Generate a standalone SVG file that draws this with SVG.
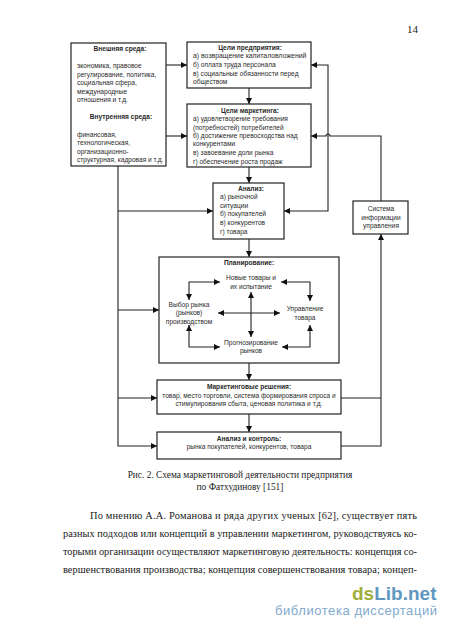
<svg xmlns="http://www.w3.org/2000/svg" width="450" height="631" viewBox="0 0 450 631">
<style>
text{font-family:"Liberation Sans",Arial,sans-serif;font-size:6.6px;fill:#2a2a2a}
.b{font-weight:bold;text-anchor:middle}
.m{text-anchor:middle}
.box{fill:#fff;stroke:#222;stroke-width:1.2}
.c{fill:none;stroke:#222;stroke-width:1.1}
.s{font-family:"Liberation Serif",serif;fill:#222}
.cap{font-size:9.4px}
.body{font-size:10.4px}
</style>
<defs>
<marker id="a" viewBox="0 0 6 6" refX="6" refY="3" markerWidth="6" markerHeight="6" markerUnits="userSpaceOnUse" orient="auto-start-reverse"><path d="M0 0L6 3L0 6z" fill="#111"/></marker>
</defs>
<rect width="450" height="631" fill="#fff"/>
<text class="s" x="407" y="33" style="font-size:11px">14</text>
<g id="connectors">
<path class="c" d="M166 65H187" marker-end="url(#a)"/>
<path class="c" d="M166 136H187" marker-end="url(#a)"/>
<path class="c" d="M249 88V104" marker-end="url(#a)"/>
<path class="c" d="M249 167V183" marker-end="url(#a)"/>
<path class="c" d="M249 239V257" marker-end="url(#a)"/>
<path class="c" d="M249 363V380" marker-end="url(#a)"/>
<path class="c" d="M249 414V432" marker-end="url(#a)"/>
<path class="c" d="M118 166V446H157" marker-end="url(#a)"/>
<path class="c" d="M118 211H213" marker-end="url(#a)"/>
<path class="c" d="M118 310H159" marker-end="url(#a)"/>
<path class="c" d="M118 398H157" marker-end="url(#a)"/>
<path class="c" d="M311 65H328V211H284" marker-start="url(#a)" marker-end="url(#a)"/>
<path class="c" d="M381 201V136H330A2 2 0 0 0 326 136H311" marker-end="url(#a)"/>
<path class="c" d="M341 446H381V234" marker-end="url(#a)"/>
<path class="c" d="M341 398H381"/>
<path class="c" d="M189 300V282H220" marker-start="url(#a)" marker-end="url(#a)"/>
<path class="c" d="M189 325V347H220" marker-start="url(#a)" marker-end="url(#a)"/>
<path class="c" d="M281 282H310V301" marker-start="url(#a)" marker-end="url(#a)"/>
<path class="c" d="M282 347H310V325" marker-start="url(#a)" marker-end="url(#a)"/>
<path class="c" d="M218 313H280" marker-start="url(#a)" marker-end="url(#a)"/>
<path class="c" d="M251 292V337" marker-start="url(#a)" marker-end="url(#a)"/>
</g>
<g id="external"><rect class="box" x="71" y="43" width="95" height="123"/>
<text class="b" x="120" y="51">Внешняя среда:</text>
<text x="77" y="68">экономика, правовое</text>
<text x="77" y="77">регулирование, политика,</text>
<text x="77" y="85">социальная сфера,</text>
<text x="77" y="94">международные</text>
<text x="77" y="102">отношения и т.д.</text>
<text class="b" x="121" y="119">Внутренняя среда:</text>
<text x="77" y="137">финансовая,</text>
<text x="77" y="145">технологическая,</text>
<text x="77" y="154">организационно-</text>
<text x="77" y="162">структурная, кадровая и т.д.</text></g>
<g id="goals"><rect class="box" x="187" y="42" width="124" height="46"/>
<text class="b" x="250" y="50">Цели предприятия:</text>
<text x="193" y="58" style="font-size:6.9px">а) возвращение капиталовложений</text>
<text x="193" y="67">б) оплата труда персонала</text>
<text x="193" y="76">в) социальные обязанности перед</text>
<text x="193" y="84">обществом</text></g>
<g id="marketing-goals"><rect class="box" x="187" y="104" width="124" height="63"/>
<text class="b" x="250" y="113">Цели маркетинга:</text>
<text x="193" y="121">а) удовлетворение требования</text>
<text x="193" y="130">(потребностей) потребителей</text>
<text x="193" y="138">б) достижение превосходства над</text>
<text x="193" y="146">конкурентами</text>
<text x="193" y="155">в) завоевание доли рынка</text>
<text x="193" y="164">г) обеспечение роста продаж</text></g>
<g id="analysis"><rect class="box" x="213" y="183" width="71" height="56"/>
<text class="b" x="251" y="191">Анализ:</text>
<text x="220" y="199">а) рыночной</text>
<text x="220" y="208">ситуации</text>
<text x="220" y="216">б) покупателей</text>
<text x="220" y="225">в) конкурентов</text>
<text x="220" y="234">г) товара</text></g>
<g id="info-system"><rect class="box" x="353" y="201" width="55" height="33"/>
<text class="m" x="381" y="211">Система</text>
<text class="m" x="381" y="220">информации</text>
<text class="m" x="381" y="228">управления</text></g>
<g id="planning"><rect class="box" x="159" y="257" width="180" height="106" style="fill:none"/>
<text class="b" x="249" y="265">Планирование:</text>
<text class="m" x="251" y="280">Новые товары и</text>
<text class="m" x="251" y="289">их испытание</text>
<text class="m" x="189" y="307">Выбор рынка</text>
<text class="m" x="189" y="315">(рынков)</text>
<text class="m" x="189" y="324">производством</text>
<text class="m" x="305" y="311">Управление</text>
<text class="m" x="305" y="320">товара</text>
<text class="m" x="251" y="345">Прогнозирование</text>
<text class="m" x="251" y="353">рынков</text></g>
<g id="decisions"><rect class="box" x="157" y="380" width="184" height="34"/>
<text class="b" x="249" y="389">Маркетинговые решения:</text>
<text class="m" x="249" y="398">товар, место торговли, система формирования спроса и</text>
<text class="m" x="249" y="406">стимулирования сбыта, ценовая политика и т.д.</text></g>
<g id="control"><rect class="box" x="157" y="432" width="184" height="27"/>
<text class="b" x="249" y="441">Анализ и контроль:</text>
<text class="m" x="249" y="449">рынка покупателей, конкурентов, товара</text></g>
<g id="caption">
<text class="s m cap" x="240" y="478">Рис. 2. Схема маркетинговой деятельности предприятия</text>
<text class="s m cap" x="240" y="490">по Фатхудинову [151]</text>
<text class="s body" x="90" y="519" textLength="327">По мнению А.А. Романова и ряда других ученых [62], существует пять</text>
<text class="s body" x="63" y="537" textLength="354">разных подходов или концепций в управлении маркетингом, руководствуясь ко-</text>
<text class="s body" x="63" y="555" textLength="354">торыми организации осуществляют маркетинговую деятельность: концепция со-</text>
<text class="s body" x="63" y="573" textLength="354">вершенствования производства; концепция совершенствования товара; концеп-</text>
</g>
<g id="watermark">
<text x="352" y="600" style="font-size:19px;font-weight:bold;fill:#9fae3a">ds<tspan fill="#5f97c0">Lib.net</tspan></text>
<text x="275" y="615" textLength="162" style="font-size:13px;fill:#7fa9cc">библиотека диссертаций</text>
</g>
</svg>
